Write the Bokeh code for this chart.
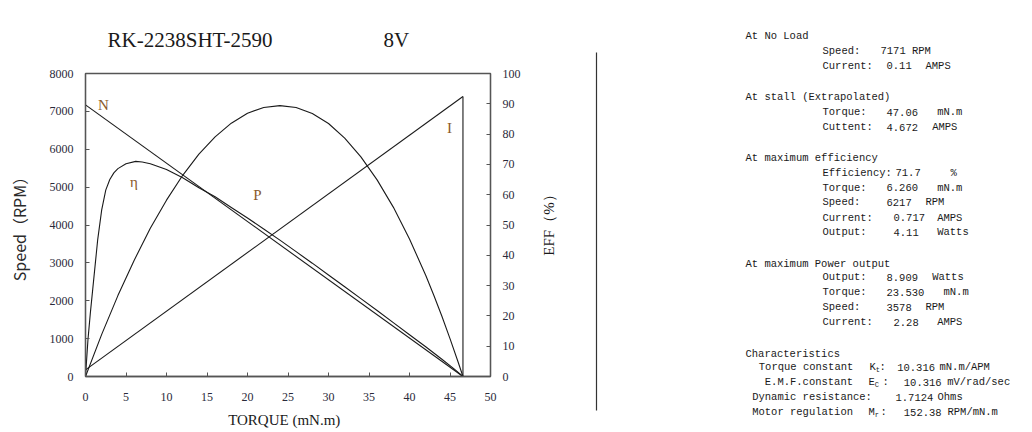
import math
from bokeh.plotting import figure
from bokeh.models import Range1d, LinearAxis, FixedTicker
from bokeh.layouts import row, column
from bokeh.core.properties import value
from bokeh.embed import file_html
from bokeh.resources import INLINE

# ---------------- data ----------------
title_text = "RK-2238SHT-2590"
voltage_text = "8V"
eff_axis_label = "EFF（%）"

x_ticks = [0, 5, 10, 15, 20, 25, 30, 35, 40, 45, 50]
speed_ticks = [0, 1000, 2000, 3000, 4000, 5000, 6000, 7000, 8000]
eff_ticks = [0, 10, 20, 30, 40, 50, 60, 70, 80, 90, 100]

speed_torque = [0.0, 46.6]
speed_rpm = [7171, 0]

current_torque = [0.0, 46.6]
current_amps = [0.11, 4.62]

eff_torque = [0, 0.3, 0.6, 0.9, 1.2, 1.5, 2.0, 2.5, 3.0, 3.5, 4.0, 5.0, 6.2, 7.0, 8.0,
              10, 12, 14, 16, 18, 20, 22, 24, 26, 28, 30, 32, 34, 36, 38, 40, 42, 44, 45.5, 46.6]
eff_pct = [0, 12, 21, 29, 37, 45, 55, 61.5, 65, 67.2, 68.6, 70.2, 71.0, 70.8, 70.2,
           68.3, 65.6, 62.3, 59.3, 55.8, 52.3, 48.7, 45.0, 41.2, 37.4, 33.5, 29.6, 25.7, 21.8, 17.8, 13.8, 9.8, 5.7, 2.5, 0]

power_torque = [0, 2, 4, 6, 8, 10, 12, 14, 16, 18, 20, 22, 24, 26, 28, 30, 32, 34, 36, 38,
                40, 42, 43, 44, 45, 46, 46.6]
power_w = [0, 1.39, 2.67, 3.83, 4.89, 5.82, 6.64, 7.34, 7.91, 8.36, 8.69, 8.88, 8.94, 8.88,
           8.68, 8.35, 7.87, 7.25, 6.49, 5.59, 4.54, 3.34, 2.68, 1.99, 1.25, 0.48, 0]

curve_names = ["N", "η", "P", "I"]

headers = ["At No Load", "At stall (Extrapolated)", "At maximum efficiency",
           "At maximum Power output", "Characteristics"]
spec_labels = ["Speed:", "Current:", "Torque:", "Cuttent:", "Efficiency:", "Torque:", "Speed:",
               "Current:", "Output:", "Output:", "Torque:", "Speed:", "Current:"]
spec_values = ["7171 RPM", "0.11", "47.06", "4.672", "71.7", "6.260", "6217", "0.717", "4.11",
               "8.909", "23.530", "3578", "2.28"]
spec_units = ["", "AMPS", "mN.m", "AMPS", "%", "mN.m", "RPM", "AMPS", "Watts",
              "Watts", "mN.m", "RPM", "AMPS"]
char_labels = ["Torque constant", "E.M.F.constant", "Dynamic resistance:", "Motor regulation"]
char_symbols = ["K", "E", "", "M"]
char_subs = ["t", "C", "", "r"]
char_values = ["10.316", "10.316", "1.7124", "152.38"]
char_units = ["mN.m/APM", "mV/rad/sec", "Ohms", "RPM/mN.m"]

# ---------------- styles / layout ----------------
INK = "#1a1a1a"
LBL = "#8b5a2b"
SERIF = value("Liberation Serif")
MONO = value("Liberation Mono")
FS = "10.5px"

LEFT_W = 530
BL, BR = 85, 40

# title strip: shares the chart's torque scale horizontally
tf = figure(width=LEFT_W, height=58, x_range=Range1d(0, 50), y_range=Range1d(58, 0),
            output_backend="svg", toolbar_location=None,
            min_border_left=BL, min_border_right=BR, min_border_top=0, min_border_bottom=0,
            x_axis_type=None, y_axis_type=None)
tf.outline_line_color = None
tf.xgrid.visible = False
tf.ygrid.visible = False
tf.text(x=[2.72, 36.79], y=[39, 39], text=[title_text, voltage_text], text_font=SERIF,
        text_font_size="21px", text_baseline="middle", text_align="left", text_color=INK)

# chart
p = figure(width=LEFT_W, height=374, x_range=Range1d(0, 50), y_range=Range1d(0, 8000),
           output_backend="svg", toolbar_location=None,
           min_border_left=BL, min_border_right=BR, min_border_top=15, min_border_bottom=56)
p.extra_y_ranges = {"eff": Range1d(0, 100), "pw": Range1d(0, 10), "cur": Range1d(0, 5)}
p.xgrid.visible = False
p.ygrid.visible = False
p.outline_line_color = "#555555"
p.outline_line_width = 1.3

raxis = LinearAxis(y_range_name="eff")
p.add_layout(raxis, "right")

for ax, ticks in ((p.xaxis[0], x_ticks), (p.yaxis[0], speed_ticks), (raxis, eff_ticks)):
    ax.ticker = FixedTicker(ticks=ticks)
    ax.major_tick_in = 4
    ax.major_tick_out = 0
    ax.minor_tick_in = 0
    ax.minor_tick_out = 0
    ax.axis_line_color = "#555555"
    ax.axis_line_width = 1.3
    ax.major_tick_line_color = "#555555"
    ax.major_label_text_font = "Liberation Serif"
    ax.major_label_text_font_size = "12px"
    ax.major_label_text_color = "#2a2a3a"
    ax.major_label_standoff = 12

p.xaxis[0].major_label_standoff = 16
p.xaxis[0].axis_label = "TORQUE   (mN.m)"
p.xaxis[0].axis_label_text_font = "Liberation Serif"
p.xaxis[0].axis_label_text_font_size = "15px"
p.xaxis[0].axis_label_text_font_style = "normal"
p.xaxis[0].axis_label_text_color = INK
p.xaxis[0].axis_label_standoff = 8

p.yaxis[0].axis_label = "Speed（RPM）"
p.yaxis[0].axis_label_text_font = "Noto Sans CJK SC"
p.yaxis[0].axis_label_text_font_size = "16px"
p.yaxis[0].axis_label_text_font_style = "normal"
p.yaxis[0].axis_label_text_color = "#2a2a2a"
p.yaxis[0].axis_label_standoff = 16

LW = 1.1
p.line(speed_torque, speed_rpm, line_color=INK, line_width=LW)
p.line(current_torque, current_amps, line_color=INK, line_width=LW, y_range_name="cur")
p.segment(x0=[current_torque[-1]], y0=[0], x1=[current_torque[-1]], y1=[current_amps[-1]],
          line_color=INK, line_width=LW, y_range_name="cur")
p.line(eff_torque, eff_pct, line_color=INK, line_width=LW, y_range_name="eff")
p.line(power_torque, power_w, line_color=INK, line_width=LW, y_range_name="pw")

p.text(x=[2.22, 5.99, 21.23, 44.94], y=[7181, 5148, 4805, 6561], text=curve_names,
       text_font=SERIF, text_font_size="15px", text_align="center", text_baseline="middle",
       text_color=LBL)

# right-hand part of the page (page pixel coordinates): EFF axis title + specification panel
q = figure(width=1032 - LEFT_W, height=432, x_range=Range1d(LEFT_W, 1032), y_range=Range1d(432, 0),
           output_backend="svg", toolbar_location=None, min_border=0,
           x_axis_type=None, y_axis_type=None)
q.outline_line_color = None
q.xgrid.visible = False
q.ygrid.visible = False

q.text(x=[548], y=[221], text=[eff_axis_label], angle=math.pi / 2, text_font=SERIF,
       text_font_size="15px", text_align="center", text_baseline="middle", text_color=INK)

q.segment(x0=[596], y0=[52], x1=[596], y1=[410], line_color="#333333", line_width=1.2)

header_y = [35, 96, 157, 263, 353]
q.text(x=[745] * len(headers), y=header_y, text=headers, text_font=MONO, text_font_size=FS,
       text_baseline="middle", text_color=INK)

spec_y = [50, 65, 111.7, 126.7, 172.3, 187, 201.7, 217, 231.7, 276.7, 291.7, 306.7, 321.7]
value_x = [880, 886, 886, 886, 895, 886, 886, 893, 893, 886, 886, 886, 893]
unit_x = [925, 925, 936.7, 931.7, 950, 936.7, 925, 936.7, 936.7, 931.7, 943, 925, 936.7]
q.text(x=[822] * len(spec_labels), y=spec_y, text=spec_labels, text_font=MONO,
       text_font_size=FS, text_baseline="middle", text_color=INK)
q.text(x=value_x, y=spec_y, text=spec_values, text_font=MONO,
       text_font_size=FS, text_baseline="middle", text_color=INK)
q.text(x=unit_x, y=spec_y, text=spec_units, text_font=MONO,
       text_font_size=FS, text_baseline="middle", text_color=INK)

char_y = [366.7, 381.7, 396.7, 411.7]
char_x = [758.3, 764.3, 751.7, 751.7]
sym_x = [869, 868, 0, 868]
colon_x = [879, 882, 0, 880]
cval_x = [896.7, 903.3, 895, 903.3]
cunit_x = [939, 946.7, 937, 947]
q.text(x=char_x, y=char_y, text=char_labels, text_font=MONO, text_font_size=FS,
       text_baseline="middle", text_color=INK)
idx = [i for i, s in enumerate(char_symbols) if s]
q.text(x=[sym_x[i] for i in idx], y=[char_y[i] for i in idx], text=[char_symbols[i] for i in idx],
       text_font=MONO, text_font_size=FS, text_baseline="middle", text_color=INK)
q.text(x=[sym_x[i] + 6.3 for i in idx], y=[char_y[i] + 3 for i in idx], text=[char_subs[i] for i in idx],
       text_font=MONO, text_font_size="7px", text_baseline="middle", text_color=INK)
q.text(x=[colon_x[i] for i in idx], y=[char_y[i] for i in idx], text=[":" for i in idx],
       text_font=MONO, text_font_size=FS, text_baseline="middle", text_color=INK)
q.text(x=cval_x, y=char_y, text=char_values, text_font=MONO, text_font_size=FS,
       text_baseline="middle", text_color=INK)
q.text(x=cunit_x, y=char_y, text=char_units, text_font=MONO, text_font_size=FS,
       text_baseline="middle", text_color=INK)

layout = row(column(tf, p), q)
open("out.html", "w").write(file_html(layout, INLINE))
